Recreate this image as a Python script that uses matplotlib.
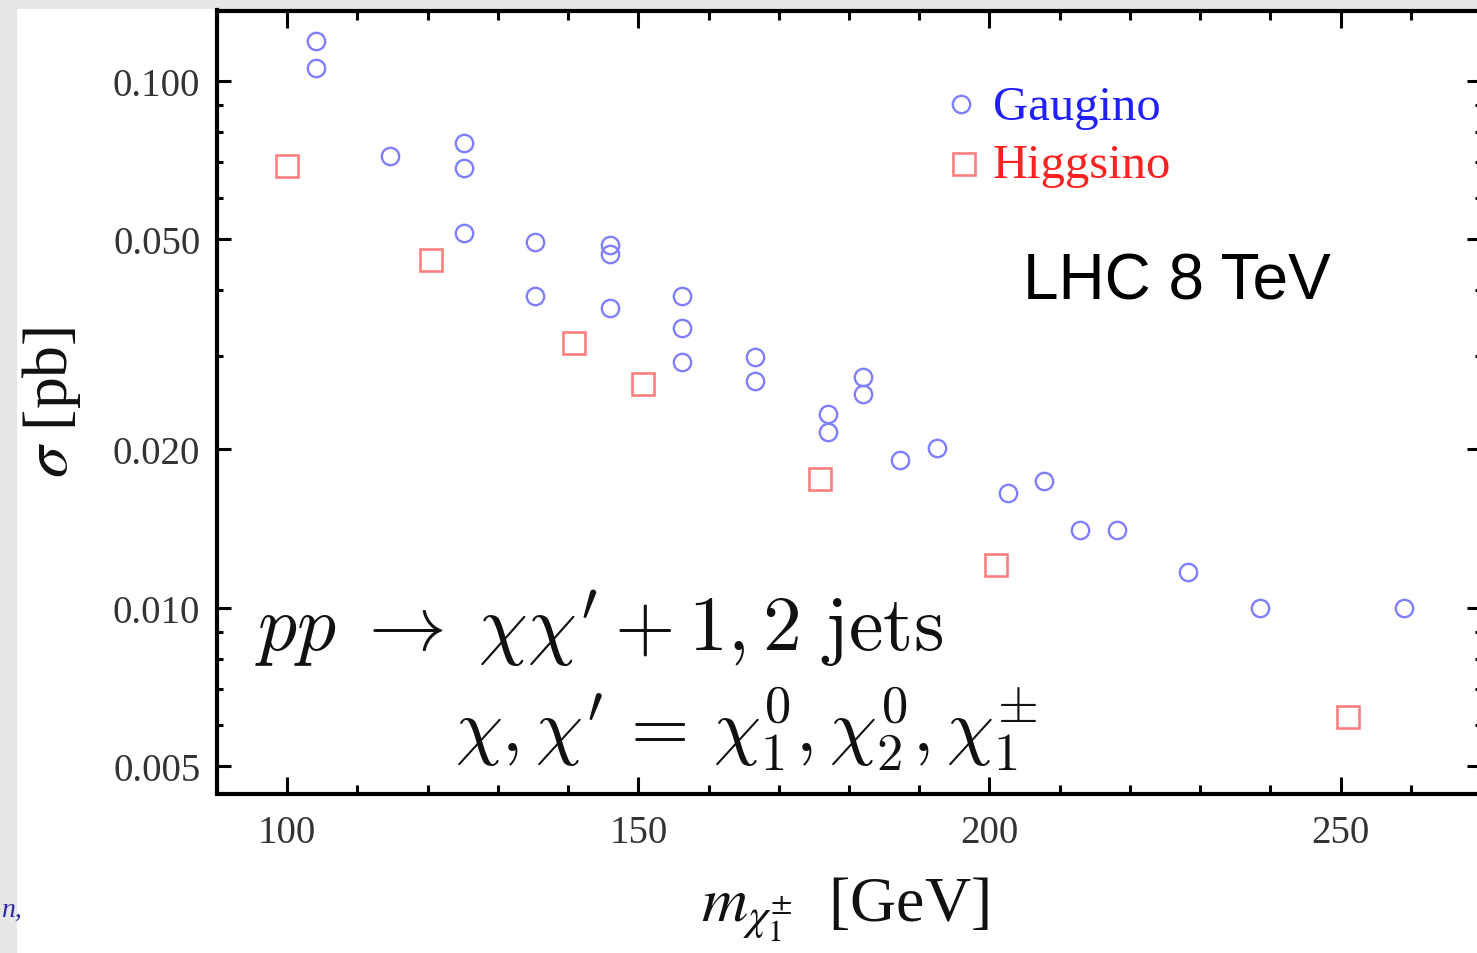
import matplotlib
matplotlib.use("Agg")
import matplotlib.pyplot as plt
from matplotlib.patches import Rectangle
from matplotlib.ticker import FixedLocator, FixedFormatter, MultipleLocator, NullFormatter

# Gaugino-like spectra: chargino mass [GeV] vs cross section [pb]
gaugino_mass = [104.1, 104.1, 114.7, 125.2, 125.2, 125.2, 135.3, 135.3,
                146.0, 146.0, 146.0, 156.2, 156.2, 156.2, 166.6, 166.6,
                177.0, 177.0, 182.0, 182.0, 187.3, 192.5, 202.7, 207.8,
                212.9, 218.2, 228.3, 238.5, 259.0]
gaugino_xsec = [0.1192, 0.1056, 0.0721, 0.0762, 0.0683, 0.0513, 0.0494, 0.0391,
                0.0488, 0.0469, 0.0371, 0.0391, 0.0339, 0.0293, 0.0299, 0.0269,
                0.0233, 0.0215, 0.0274, 0.0254, 0.0191, 0.0201, 0.01653, 0.01742,
                0.01406, 0.01406, 0.0117, 0.0100, 0.0100]

# Higgsino-like spectra
higgsino_mass = [100.0, 120.5, 140.8, 150.7, 175.9, 200.9, 251.1]
higgsino_xsec = [0.0688, 0.0456, 0.0318, 0.0266, 0.01754, 0.01207, 0.00619]

y_major = [0.005, 0.010, 0.020, 0.050, 0.100]
y_major_labels = ["0.005", "0.010", "0.020", "0.050", "0.100"]
y_minor = [0.006, 0.007, 0.008, 0.009, 0.03, 0.04, 0.06, 0.07, 0.08, 0.09]

W, H = 1477, 954
fig = plt.figure(figsize=(W / 100, H / 100), dpi=100)
fig.patch.set_facecolor("#e6e6e6")
fig.patches.append(Rectangle((17 / W, 0), 1, 1 - 10 / H, transform=fig.transFigure,
                             facecolor="white", edgecolor="none", zorder=-10))
fig.text(1 / W, 1 - 910 / H, "n,", color="#2a2aa8", fontsize=20, style="italic",
         family="Liberation Serif", va="center", ha="left")

ax = fig.add_axes([217 / W, 1 - 794.5 / H, 1264 / W, 783 / H])
ax.set_zorder(2)
ax.set_facecolor("white")
ax.set_yscale("log")
ax.set_xlim(90, 270)
ax.set_ylim(0.00444, 0.1359)

ax.plot(gaugino_mass, gaugino_xsec, linestyle="none", marker="o", markersize=12.5,
        markerfacecolor="none", markeredgecolor="#7f7fff", markeredgewidth=1.7,
        clip_on=False, zorder=3)
ax.plot(higgsino_mass, higgsino_xsec, linestyle="none", marker="s", markersize=16,
        markerfacecolor="none", markeredgecolor="#ff7f7f", markeredgewidth=1.9,
        clip_on=False, zorder=3)

# frame and ticks
for s in ax.spines.values():
    s.set_linewidth(3)
ax.xaxis.set_major_locator(MultipleLocator(50))
ax.xaxis.set_minor_locator(MultipleLocator(10))
ax.yaxis.set_major_locator(FixedLocator(y_major))
ax.yaxis.set_major_formatter(FixedFormatter(y_major_labels))
ax.yaxis.set_minor_locator(FixedLocator(y_minor))
ax.yaxis.set_minor_formatter(NullFormatter())
ax.tick_params(axis="both", which="both", direction="in", top=True, right=True,
               width=2.2, colors="black", labelcolor="#333333",
               labelfontfamily="Liberation Serif", labelsize=28)
ax.tick_params(axis="x", which="major", length=12, pad=15)
ax.tick_params(axis="x", which="minor", length=6.5)
ax.tick_params(axis="y", which="major", length=10, pad=12)
ax.tick_params(axis="y", which="minor", length=4.5)

ax.set_xlabel(r"$m_{\chi_1^{\pm}}$  [GeV]", fontsize=46, family="Liberation Serif",
              math_fontfamily="stix", va="center", color="#111111")
ax.xaxis.set_label_coords(0.497, -0.1475)
ax.set_ylabel(r"$\sigma$ [pb]", fontsize=46, family="Liberation Serif",
              math_fontfamily="stix", va="center", color="#111111")
ax.yaxis.set_label_coords(-0.1313, 0.5013)

# legend drawn as marker + coloured label
ax.plot([0.5886], [0.8806], transform=ax.transAxes, linestyle="none", marker="o",
        markersize=12.5, markerfacecolor="none", markeredgecolor="#7f7fff",
        markeredgewidth=1.7, clip_on=False)
ax.text(0.614, 0.8614, "Gaugino", transform=ax.transAxes, color="#2020ff",
        fontsize=35, family="Liberation Serif", va="baseline", ha="left")
ax.plot([0.591], [0.804], transform=ax.transAxes, linestyle="none", marker="s",
        markersize=16, markerfacecolor="none", markeredgecolor="#ff7f7f",
        markeredgewidth=1.9, clip_on=False)
ax.text(0.614, 0.7874, "Higgsino", transform=ax.transAxes, color="#ff2020",
        fontsize=35, family="Liberation Serif", va="baseline", ha="left")

ax.text(1023 / W, 1 - 300 / H, "LHC 8 TeV", transform=fig.transFigure, fontsize=46,
        family="Liberation Sans", ha="left", va="baseline", color="black")

ax.text(255 / W, 1 - 650 / H,
        r"$pp \;\rightarrow\; \chi\chi' + 1, 2\ \mathrm{jets}$",
        transform=fig.transFigure, fontsize=56, math_fontfamily="cm",
        ha="left", va="baseline", color="#111111")
ax.text(455 / W, 1 - 752 / H, r"$\chi, \chi' \,=\, \chi_1^0, \chi_2^0, \chi_1^{\pm}$",
        transform=fig.transFigure, fontsize=54, math_fontfamily="cm",
        ha="left", va="baseline", color="#111111")

fig.savefig("out.png", dpi=100, facecolor=fig.get_facecolor())
